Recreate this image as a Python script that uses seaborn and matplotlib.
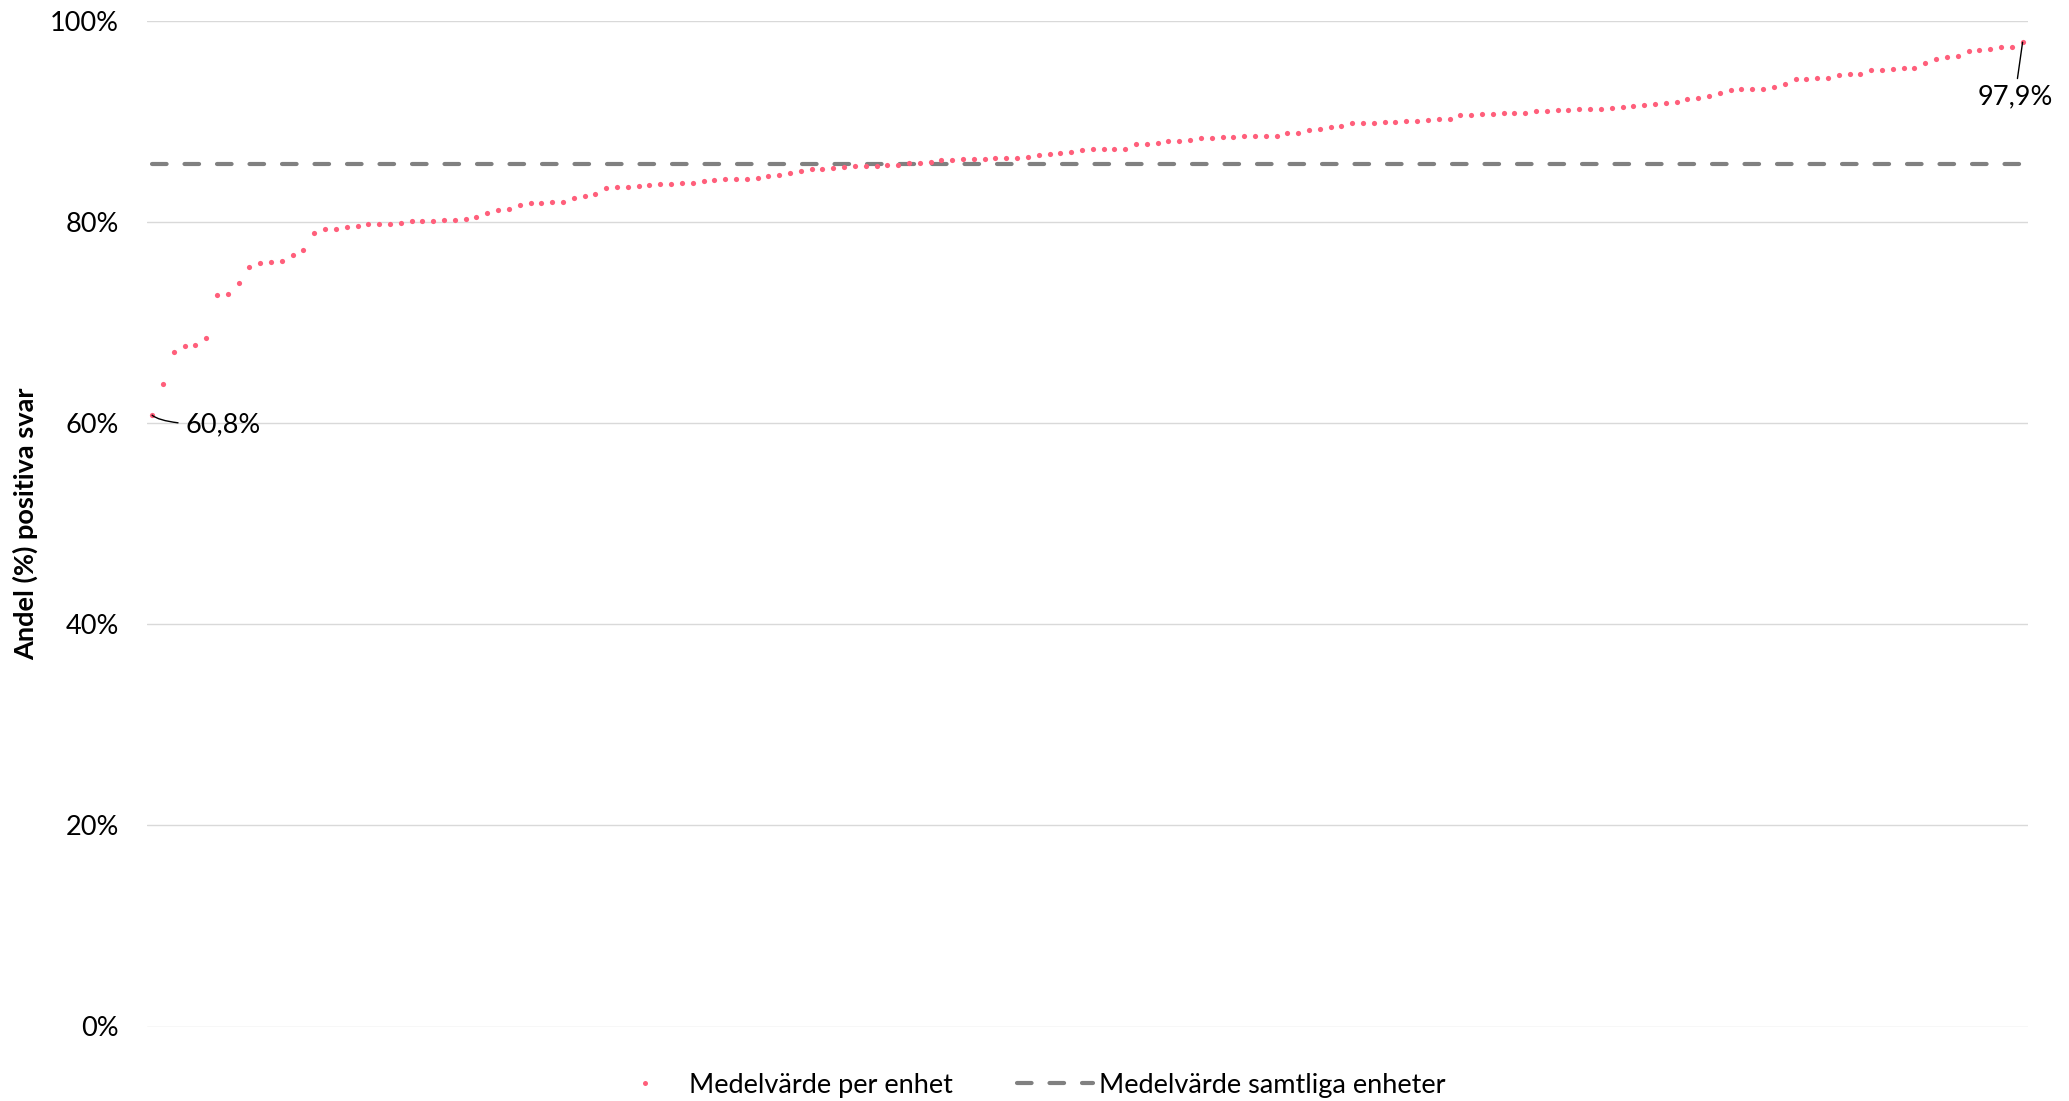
import numpy as np
import pandas as pd
import matplotlib
matplotlib.use("Agg")
import matplotlib.pyplot as plt
import seaborn as sns
from matplotlib.lines import Line2D
from matplotlib.ticker import FuncFormatter

# ---------------- data ----------------
values = [
    60.8, 63.9, 67.1, 67.7, 67.8, 68.5, 72.8, 72.9, 74.0, 75.5,
    75.9, 76.0, 76.1, 76.7, 77.2, 78.9, 79.3, 79.3, 79.5, 79.6,
    79.8, 79.8, 79.8, 79.9, 80.1, 80.1, 80.1, 80.2, 80.25, 80.35,
    80.55, 80.9, 81.2, 81.35, 81.7, 81.9, 81.9, 82.0, 82.0, 82.45,
    82.6, 82.85, 83.35, 83.45, 83.5, 83.6, 83.65, 83.75, 83.8, 83.85,
    83.9, 84.1, 84.15, 84.25, 84.3, 84.3, 84.4, 84.6, 84.65, 84.85,
    85.1, 85.25, 85.3, 85.35, 85.5, 85.55, 85.6, 85.6, 85.65, 85.7,
    85.85, 85.9, 85.95, 86.15, 86.2, 86.25, 86.3, 86.3, 86.35, 86.4,
    86.4, 86.5, 86.65, 86.8, 86.9, 87.0, 87.2, 87.25, 87.25, 87.3,
    87.3, 87.8, 87.8, 87.85, 88.05, 88.05, 88.2, 88.4, 88.4, 88.5,
    88.5, 88.55, 88.6, 88.6, 88.6, 88.85, 88.9, 89.2, 89.25, 89.5,
    89.6, 89.85, 89.9, 89.9, 89.95, 89.95, 90.05, 90.05, 90.2, 90.25,
    90.25, 90.65, 90.65, 90.75, 90.8, 90.85, 90.85, 90.85, 91.05, 91.1,
    91.15, 91.2, 91.25, 91.25, 91.3, 91.35, 91.5, 91.55, 91.7, 91.8,
    91.9, 92.0, 92.25, 92.4, 92.55, 92.85, 93.1, 93.2, 93.2, 93.25,
    93.45, 93.7, 94.2, 94.25, 94.35, 94.35, 94.6, 94.75, 94.75, 95.15,
    95.15, 95.25, 95.3, 95.35, 95.85, 96.25, 96.45, 96.55, 97.0, 97.1,
    97.25, 97.4, 97.4, 97.9,
]
mean_all = 85.8
ytick_values = [0, 20, 40, 60, 80, 100]
series_labels = ["Medelvärde per enhet", "Medelvärde samtliga enheter"]
y_label = "Andel (%) positiva svar"
first_label = "60,8%"
last_label = "97,9%"

PINK = "#FF5F7B"
GRAY = "#808080"

# ---------------- style ----------------
sns.set_theme(style="white")
plt.rcParams['font.family'] = ['Lato', 'DejaVu Sans']

W, H = 2069, 1101
fig = plt.figure(figsize=(W / 100, H / 100), dpi=100)
left_px, right_px, top_px, bot_px = 146.7, 2028.0, 21.1, 1026.5
ax = fig.add_axes([left_px / W, 1 - bot_px / H, (right_px - left_px) / W, (bot_px - top_px) / H])

df = pd.DataFrame({"enhet": np.arange(len(values)), "andel": values})
df["medel"] = mean_all

sns.lineplot(data=df, x="enhet", y="medel", ax=ax, color=GRAY, linewidth=3.0, zorder=2)
ln = ax.lines[-1]
ln.set_dashes((3.5, 4.3))
ln.set_dash_capstyle('round')

sns.scatterplot(data=df, x="enhet", y="andel", ax=ax, color=PINK, s=14,
                linewidth=0, zorder=3)

ax.set_xlim(-0.5, len(values) - 0.5)
ax.set_ylim(0, 100)
ax.set_yticks(ytick_values)
ax.yaxis.set_major_formatter(FuncFormatter(lambda v, p: f"{int(v)}%"))
ax.set_xticks([])
ax.set_xlabel("")
ax.yaxis.grid(True, color="#D9D9D9", linewidth=1.0)
ax.xaxis.grid(False)
ax.set_axisbelow(True)
for s in ax.spines.values():
    s.set_visible(False)
ax.tick_params(axis='y', length=0, pad=20, labelsize=19.5, labelcolor='black')
ax.set_ylabel(y_label, fontsize=19.5, fontweight='bold', color='black')
ax.yaxis.set_label_coords((38 - left_px) / (right_px - left_px), 0.5)

# ---------------- annotations ----------------
ax.annotate(first_label, xy=(0, values[0]), xytext=(24, -7), textcoords='offset points',
            ha='left', va='center', fontsize=19.5, color='black',
            arrowprops=dict(arrowstyle='-', color='black', lw=1.0,
                            connectionstyle="angle3,angleA=0,angleB=-40",
                            shrinkA=3, shrinkB=0))
ax.annotate(last_label, xy=(len(values) - 1, values[-1]), xytext=(-5.6, -39.5),
            textcoords='offset points', ha='center', va='center', fontsize=19.5,
            color='black', annotation_clip=False,
            arrowprops=dict(arrowstyle='-', color='black', lw=1.0, shrinkA=2, shrinkB=0))

# ---------------- legend ----------------
if ax.get_legend() is not None:
    ax.get_legend().remove()
h1 = Line2D([], [], linestyle='none', marker='o', markersize=3.6, color=PINK,
            markeredgewidth=0)
h2 = Line2D([], [], color=GRAY, linewidth=3.0, dashes=(3.5, 4.3), dash_capstyle='round')
fig.legend([h1, h2], series_labels, loc='center', bbox_to_anchor=(0.496, 1 - 1085 / H),
           ncol=2, frameon=False, fontsize=19.5, handlelength=2.8, handletextpad=0.2,
           columnspacing=2.4, labelcolor='black')

fig.savefig("out.png", dpi=100)
